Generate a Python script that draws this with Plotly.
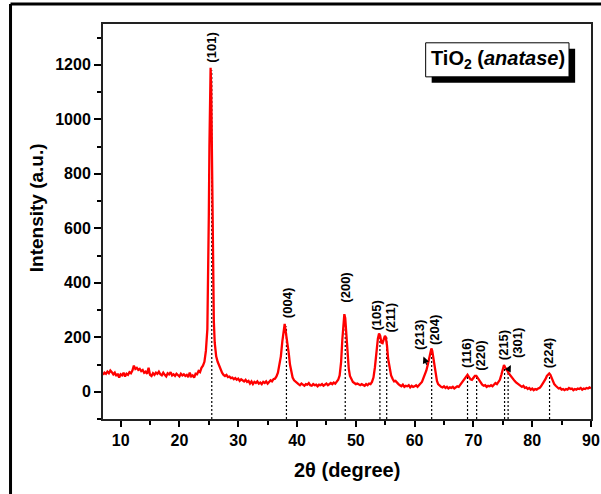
import plotly.graph_objects as go

# ---------------- data ----------------
two_theta = [
    7.0, 7.25, 7.5, 7.75, 8.0, 8.25, 8.5, 8.75, 9.0, 9.25, 9.5, 9.75,
    10.0, 10.25, 10.5, 10.75, 11.0, 11.25, 11.5, 11.75, 12.0, 12.25, 12.5, 12.75,
    13.0, 13.25, 13.5, 13.75, 14.0, 14.25, 14.5, 14.75, 15.0, 15.25, 15.5, 15.75,
    16.0, 16.25, 16.5, 16.75, 17.0, 17.25, 17.5, 17.75, 18.0, 18.25, 18.5, 18.75,
    19.0, 19.25, 19.5, 19.75, 20.0, 20.25, 20.5, 20.75, 21.0, 21.25, 21.5, 21.75,
    22.0, 22.25, 22.5, 22.75, 23.0, 23.25, 23.5, 23.75, 24.0,
    24.25, 24.5, 24.75, 24.9, 25.0, 25.1, 25.2, 25.3, 25.4, 25.5, 25.6, 25.7,
    25.85, 26.0, 26.25, 26.5, 26.75, 27.0, 27.25, 27.5,
    27.75, 28.0, 28.25, 28.5, 28.75, 29.0, 29.25, 29.5, 29.75, 30.0, 30.25, 30.5,
    30.75, 31.0, 31.25, 31.5, 31.75, 32.0, 32.25, 32.5, 32.75, 33.0, 33.25, 33.5,
    33.75, 34.0, 34.25, 34.5, 34.75, 35.0, 35.25, 35.5, 35.75, 36.0, 36.25, 36.5,
    36.75, 37.0, 37.25, 37.5, 37.7, 37.9, 38.05, 38.25, 38.4, 38.6, 38.8, 39.0,
    39.25, 39.5, 39.75, 40.0,
    40.25, 40.5, 40.75, 41.0, 41.25, 41.5, 41.75, 42.0, 42.25, 42.5, 42.75, 43.0,
    43.25, 43.5, 43.75, 44.0, 44.25, 44.5, 44.75, 45.0, 45.25, 45.5, 45.75, 46.0,
    46.25, 46.5, 46.75, 47.0,
    47.25, 47.5, 47.7, 47.9, 48.05, 48.2, 48.4, 48.6, 48.8, 49.0, 49.25, 49.5,
    49.75, 50.0,
    50.25, 50.5, 50.75, 51.0, 51.25, 51.5, 51.75, 52.0, 52.25, 52.5, 52.75, 53.0,
    53.25, 53.5,
    53.75, 53.95, 54.15, 54.35, 54.55, 54.75, 54.95, 55.1, 55.3, 55.5, 55.75, 56.0,
    56.25, 56.5, 56.75, 57.0,
    57.25, 57.5, 57.75, 58.0, 58.25, 58.5, 58.75, 59.0, 59.25, 59.5, 59.75, 60.0,
    60.25, 60.5, 60.75, 61.0, 61.25, 61.5, 61.75, 62.0,
    62.25, 62.5, 62.7, 62.85, 63.0, 63.2, 63.4, 63.6, 63.8, 64.0, 64.25, 64.5,
    64.75, 65.0, 65.25, 65.5, 65.75, 66.0, 66.25, 66.5, 66.75, 67.0, 67.25, 67.5,
    67.75, 68.0, 68.25, 68.5,
    68.75, 69.0, 69.25, 69.5, 69.75, 70.0, 70.25, 70.5, 70.75, 71.0, 71.25, 71.5,
    71.75, 72.0,
    72.25, 72.5, 72.75, 73.0, 73.25, 73.5, 73.75, 74.0, 74.25, 74.5, 74.75, 75.0,
    75.2, 75.4, 75.6, 75.8, 76.0, 76.25, 76.5, 76.75, 77.0, 77.25, 77.5, 77.75,
    78.0, 78.25, 78.5, 78.75, 79.0, 79.25, 79.5, 79.75, 80.0, 80.25, 80.5, 80.75,
    81.0, 81.25, 81.5, 81.75, 82.0, 82.25, 82.5, 82.75, 82.9, 83.1, 83.3, 83.5,
    83.75, 84.0, 84.25, 84.5, 84.75, 85.0, 85.25, 85.5, 85.75, 86.0, 86.25, 86.5,
    86.75, 87.0, 87.25, 87.5, 87.75, 88.0, 88.25, 88.5, 88.75, 89.0, 89.25, 89.5,
    89.75, 90.0,
]
intensity = [
    62, 70, 66, 74, 68, 78, 72, 64, 70, 58, 66, 52,
    64, 60, 70, 56, 66, 62, 72, 68, 78, 96, 84, 88,
    80, 84, 76, 80, 70, 74, 66, 88, 62, 58, 68, 62,
    70, 66, 74, 64, 60, 70, 62, 56, 68, 64, 72, 60,
    64, 58, 66, 62, 56, 66, 60, 64, 58, 62, 54, 70,
    56, 60, 52, 66, 64, 76, 72, 88, 96,
    110, 150, 230, 400, 650, 900, 1100, 1189, 1120, 900, 650, 420,
    260, 180, 130, 110, 96, 80, 70, 62,
    58, 62, 54, 56, 50, 52, 46, 50, 44, 48, 40, 46,
    42, 38, 44, 36, 40, 30, 38, 28, 36, 32, 38, 30,
    34, 28, 36, 32, 38, 30, 36, 42, 38, 46, 48, 56,
    70, 95, 130, 185, 230, 249, 225, 200, 175, 140, 100, 72,
    52, 42, 36, 30,
    28, 24, 30, 26, 22, 28, 26, 32, 24, 22, 28, 24,
    26, 20, 26, 24, 28, 22, 26, 30, 24, 28, 32, 28,
    34, 30, 38, 44,
    60, 110, 190, 260, 285, 270, 200, 130, 85, 58, 44, 36,
    32, 28,
    30, 26, 24, 28, 26, 22, 28, 24, 30, 28, 36, 52,
    90, 150,
    195, 214, 205, 180, 178, 192, 205, 200, 170, 120, 80, 60,
    48, 38, 40, 32,
    28, 24, 20, 26, 18, 22, 20, 24, 16, 22, 18, 20,
    24, 18, 26, 30, 36, 50, 62, 78,
    100, 130, 152, 159, 150, 120, 85, 58, 40, 28, 22, 18,
    16, 20, 14, 18, 12, 16, 14, 18, 12, 16, 20, 18,
    26, 30, 40, 50,
    56, 62, 54, 46, 44, 52, 58, 58, 50, 40, 32, 26,
    22, 24,
    18, 22, 20, 24, 20, 26, 32, 28, 34, 44, 62, 88,
    98, 90, 80, 76, 68, 60, 52, 46, 40, 34, 30, 24,
    20, 18, 22, 14, 16, 10, 14, 8, 12, 6, 10, 8,
    12, 14, 20, 28, 36, 46, 58, 66, 67, 62, 50, 38,
    28, 22, 16, 12, 14, 8, 10, 6, 10, 8, 14, 10,
    12, 6, 10, 8, 12, 10, 14, 8, 12, 10, 14, 12,
    16, 13,
]
assert len(two_theta) == len(intensity)

# reflections: dashed-line position, line top, label text, label position
peak_pos = [25.5, 38.2, 48.2, 54.1, 55.25, 62.9, 69.0, 70.55, 75.3, 75.9, 82.95]
peak_top = [1180, 240, 280, 205, 200, 155, 60, 56, 95, 76, 66]
hkl_labels = ["(101)", "(004)", "(200)", "(105)", "(211)", "(213)", "(204)",
              "(116)", "(220)", "(215)", "(301)", "(224)"]
label_x = [25.5, 38.3, 48.25, 53.5, 55.9, 60.9, 63.3, 68.9, 71.25, 75.05, 77.4, 82.9]
label_y = [1200, 263, 318, 219, 208, 146, 164, 80, 69, 109, 116, 80]

# small arrows (head near label, tail on the curve)
arrow_head_x = [61.5, 76.37]
arrow_head_y = [129, 98]
arrow_tail_x = [62.17, 75.98]
arrow_tail_y = [94, 82]

x_tick_vals = [10, 20, 30, 40, 50, 60, 70, 80, 90]
y_tick_vals = [0, 200, 400, 600, 800, 1000, 1200]

FONT = "Liberation Sans, Arial, sans-serif"

fig = go.Figure()

# dashed reference lines
for p, t in zip(peak_pos, peak_top):
    fig.add_trace(go.Scatter(x=[p, p], y=[-100, t], mode="lines",
                             line=dict(color="black", width=1.2, dash="2px,2px"),
                             showlegend=False, hoverinfo="skip"))

fig.add_trace(go.Scatter(x=two_theta, y=intensity, mode="lines",
                         line=dict(color="#ff0000", width=2.3),
                         showlegend=False))

annotations = []
for txt, lx, ly in zip(hkl_labels, label_x, label_y):
    annotations.append(dict(x=lx, y=ly, xref="x", yref="y", text=txt,
                            showarrow=False, textangle=-90,
                            xanchor="center", yanchor="bottom",
                            font=dict(family=FONT, size=13, color="black", weight="bold")))
for hx, hy, tx, ty in zip(arrow_head_x, arrow_head_y, arrow_tail_x, arrow_tail_y):
    annotations.append(dict(x=hx, y=hy, ax=tx, ay=ty, xref="x", yref="y",
                            axref="x", ayref="y", text="", showarrow=True,
                            arrowhead=2, arrowsize=1.1, arrowwidth=1.2,
                            arrowcolor="black"))

# axis titles
annotations.append(dict(x=0.5, y=-0.129, xref="paper", yref="paper",
                        text="2θ (degree)", showarrow=False,
                        xanchor="center", yanchor="middle",
                        font=dict(family=FONT, size=20, color="black", weight="bold")))
annotations.append(dict(x=-0.137, y=0.534, xref="paper", yref="paper",
                        text="Intensity (a.u.)", showarrow=False, textangle=-90,
                        xanchor="center", yanchor="middle",
                        font=dict(family=FONT, size=19, color="black", weight="bold")))
# sample label
annotations.append(dict(x=74.1, y=1218, xref="x", yref="y",
                        text="TiO<sub>2</sub> (<i>anatase</i>)", showarrow=False,
                        xanchor="center", yanchor="middle",
                        font=dict(family=FONT, size=20, color="black", weight="bold")))

shapes = [
    # box shadow and box
    dict(type="rect", xref="x", yref="y", x0=62.9, x1=87.3, y0=1134, y1=1259,
         fillcolor="black", line=dict(width=0), layer="above"),
    dict(type="rect", xref="x", yref="y", x0=61.88, x1=86.26, y0=1156, y1=1281,
         fillcolor="white", line=dict(color="black", width=1), layer="above"),
    # outer frame (left and top edges)
    dict(type="line", xref="paper", yref="paper", x0=-0.1895, x1=-0.1895,
         y0=-0.3, y1=1.0506, line=dict(color="black", width=3)),
    dict(type="line", xref="paper", yref="paper", x0=-0.1895, x1=1.1,
         y0=1.0506, y1=1.0506, line=dict(color="black", width=3)),
]

fig.update_layout(
    width=601, height=494,
    margin=dict(l=103, r=10, t=24, b=75, autoexpand=False),
    paper_bgcolor="white", plot_bgcolor="white",
    annotations=annotations, shapes=shapes,
    showlegend=False,
    xaxis=dict(range=[7, 90], tickvals=x_tick_vals, ticks="outside", ticklen=6,
               tickwidth=1.5, tickcolor="black", automargin=False,
               minor=dict(dtick=5, tick0=0, ticks="outside", ticklen=4,
                          tickwidth=1.5, tickcolor="black"),
               showgrid=False, zeroline=False, showline=True, mirror=True,
               linecolor="#222", linewidth=2,
               tickfont=dict(family=FONT, size=16, color="black", weight="bold")),
    yaxis=dict(range=[-100, 1350], tickvals=y_tick_vals, ticks="outside", ticklen=7,
               tickwidth=1.5, tickcolor="black", automargin=False,
               minor=dict(dtick=100, tick0=0, ticks="outside", ticklen=4,
                          tickwidth=1.5, tickcolor="black"),
               showgrid=False, zeroline=False, showline=True, mirror=True,
               linecolor="#222", linewidth=2,
               tickfont=dict(family=FONT, size=16, color="black", weight="bold")),
)

fig.write_html("out.html", config={"displayModeBar": False},
               post_script="document.body.style.margin='0';document.body.style.overflow='hidden';")
